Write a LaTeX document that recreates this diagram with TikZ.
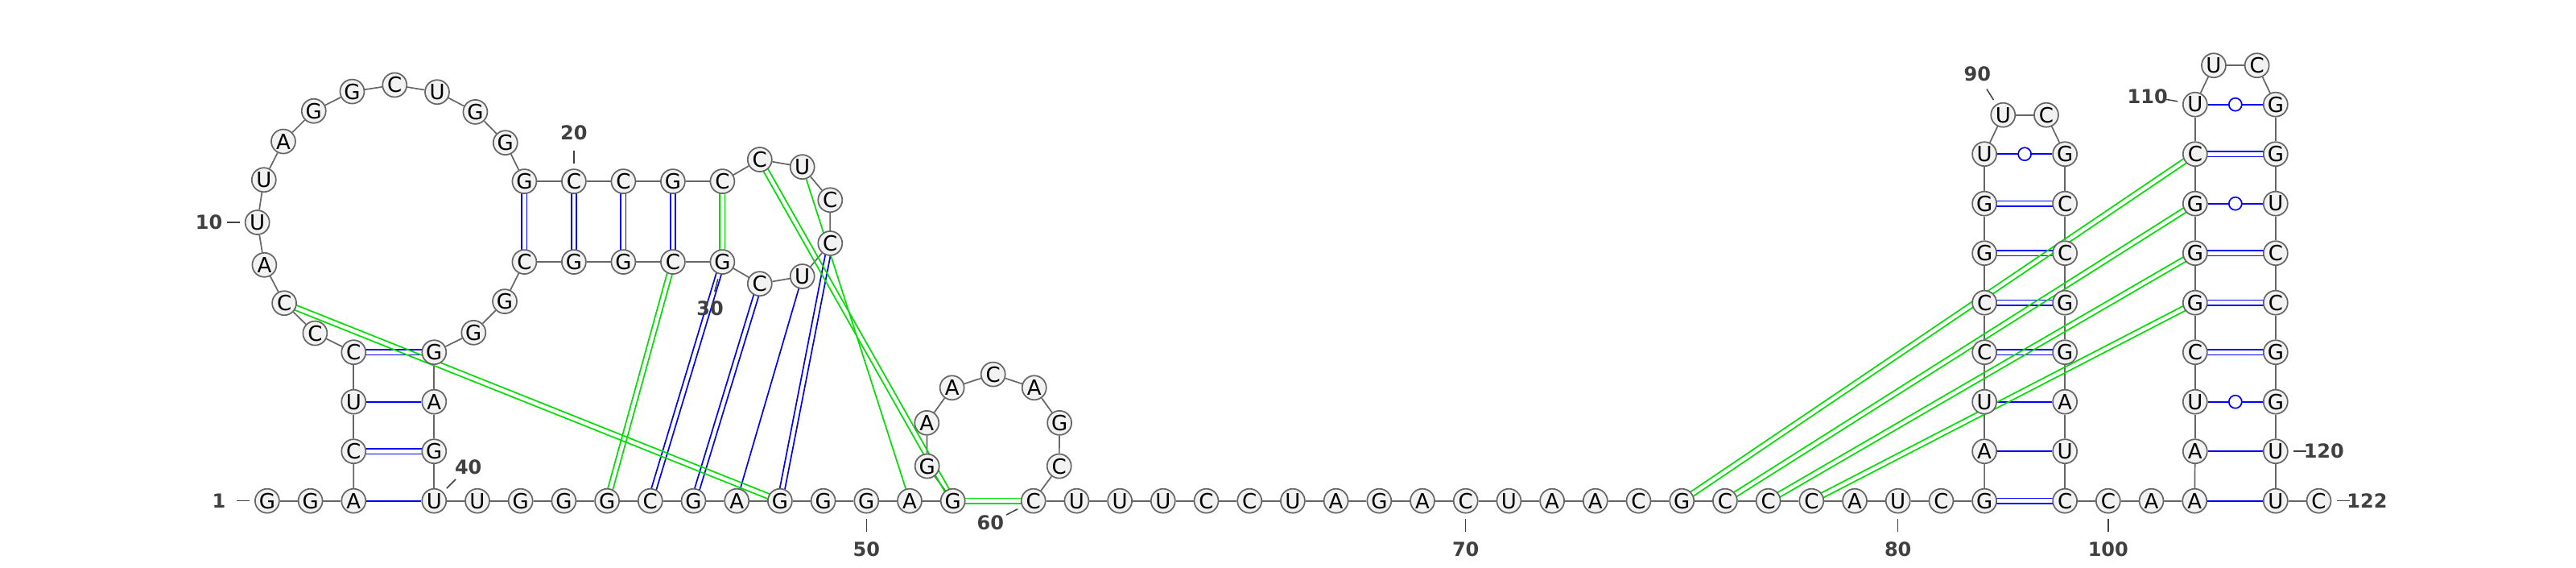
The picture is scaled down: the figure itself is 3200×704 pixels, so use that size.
\documentclass[tikz,border=0pt]{standalone}
\usepackage{fontspec}
\setmainfont{DejaVu Sans}
\usetikzlibrary{calc,backgrounds}
\definecolor{ntfill}{RGB}{242,242,242}
\definecolor{ntline}{RGB}{102,102,102}
\definecolor{bpblue}{RGB}{0,0,255}
\definecolor{pkgreen}{RGB}{0,224,0}
\definecolor{numgray}{RGB}{64,64,64}
% two parallel strokes between two bases
\newcommand{\bpdouble}[3][bpblue]{\draw[draw=#1,line width=1.7] ($(#2)!3.2pt!90:(#3)$) -- ($(#3)!3.2pt!-90:(#2)$) ($(#2)!3.2pt!-90:(#3)$) -- ($(#3)!3.2pt!90:(#2)$);}
\begin{document}
\begin{tikzpicture}[x=1pt,y=-1pt,
		nt/.style={circle,draw=ntline,fill=ntfill,line width=1.7,minimum size=30,inner sep=0,font=\fontsize{26}{26}\selectfont},
		backbone/.style={draw=ntline,line width=1.7},
		bp/.style={draw=bpblue,line width=1.7},
		pk/.style={draw=pkgreen,line width=1.7},
		wob/.style={circle,draw=bpblue,fill=white,line width=1.7,minimum size=16,inner sep=0},
		tick/.style={draw=numgray,line width=1.5},
		num/.style={text=numgray,inner sep=0,font=\fontsize{24}{24}\selectfont\bfseries}]
			\useasboundingbox (0,0) rectangle (3200,704);
			\coordinate (cA) at (489.3,275.1);
			\coordinate (cB) at (957.7,275.1);
			\coordinate (cC) at (1233.7,551.1);
			\coordinate (cD) at (2515.1,185.3);
			\coordinate (cE) at (2776.8,123.8);
			% bases
			\foreach \i/\nb in {1/G,2/G,3/A}
				\node[nt] (n\i) at ({331.9+(\i-1)*53.7},621.7) {\nb};
			\foreach \i/\nb in {4/C,5/U,6/C}
				\node[nt] (n\i) at (439.3,{621.7-(\i-3)*61.5}) {\nb};
			\foreach \i/\nb in {7/C,8/C,9/A,10/U,11/U,12/A,13/G,14/G,15/C,16/U,17/G,18/G}
				\node[nt] (n\i) at ($(cA)+({107.143+(\i-6)*18.132}:169.63)$) {\nb};
			\foreach \i/\nb in {19/G,20/C,21/C,22/G,23/C}
				\node[nt] (n\i) at ({651.4+(\i-19)*61.5},225.1) {\nb};
			\foreach \i/\nb in {24/C,25/U,26/C,27/C,28/U,29/C}
				\node[nt] (n\i) at ($(cB)+({-140.33+(\i-23)*40.094}:78.33)$) {\nb};
			\foreach \i/\nb in {30/G,31/C,32/G,33/G,34/C}
				\node[nt] (n\i) at ({651.4+(34-\i)*61.5},325.1) {\nb};
			\foreach \i/\nb in {35/G,36/G}
				\node[nt] (n\i) at ($(cA)+({72.857-(37-\i)*18.571}:169.63)$) {\nb};
			\foreach \i/\nb in {37/G,38/A,39/G}
				\node[nt] (n\i) at (539.3,{621.7-(40-\i)*61.5}) {\nb};
			\foreach \i/\nb in {40/U,41/U,42/G,43/G,44/G,45/C,46/G,47/A,48/G,49/G,50/G,51/A,52/G}
				\node[nt] (n\i) at ({539.3+(\i-40)*53.7},621.7) {\nb};
			\foreach \i/\nb in {53/G,54/A,55/A,56/C,57/A,58/G,59/C}
				\node[nt] (n\i) at ($(cC)+({125.32+(\i-52)*36.17}:86.49)$) {\nb};
			\foreach \i/\nb in {60/C,61/U,62/U,63/U,64/C,65/C,66/U,67/A,68/G,69/A,70/C,71/U,72/A,73/A,74/C,75/G,76/C,77/C,78/C,79/A,80/U,81/C,82/G}
				\node[nt] (n\i) at ({1283.7+(\i-60)*53.7},621.7) {\nb};
			\foreach \i/\nb in {83/A,84/U,85/C,86/C,87/G,88/G,89/U}
				\node[nt] (n\i) at (2465.1,{621.7-(\i-82)*61.5}) {\nb};
			\foreach \i/\nb in {90/U,91/C}
				\node[nt] (n\i) at ($(cD)+({237.76+(\i-90)*64.48}:50.345)$) {\nb};
			\foreach \i/\nb in {92/G,93/C,94/C,95/G,96/G,97/A,98/U}
				\node[nt] (n\i) at (2565.1,{621.7-(99-\i)*61.5}) {\nb};
			\foreach \i/\nb in {99/C,100/C,101/A,102/A}
				\node[nt] (n\i) at ({2565.1+(\i-99)*53.7},621.7) {\nb};
			\foreach \i/\nb in {103/A,104/U,105/C,106/G,107/G,108/G,109/C,110/U}
				\node[nt] (n\i) at (2726.8,{621.7-(\i-102)*61.5}) {\nb};
			\foreach \i/\nb in {111/U,112/C}
				\node[nt] (n\i) at ($(cE)+({237.76+(\i-111)*64.48}:50.345)$) {\nb};
			\foreach \i/\nb in {113/G,114/G,115/U,116/C,117/C,118/G,119/G,120/U,121/U}
				\node[nt] (n\i) at (2826.8,{621.7-(121-\i)*61.5}) {\nb};
			\node[nt] (n122) at (2880.5,621.7) {C};
			% numbering
			\foreach \k/\a in {1/180,10/180,20/270,30/104.7,40/-45,50/90,60/152.7,70/90,80/90,90/237.76,100/90,110/190,120/0,122/0}
			{
				\draw[tick] ($(n\k)+(\a:22)$) -- ($(n\k)+(\a:38)$);
				\node[num] (l\k) at ($(n\k)+(\a:60)$) {\k};
			}
			\begin{scope}[on background layer]
				\fill[white] (0,0) rectangle (3200,704);
				\foreach \i [remember=\i as \lasti (initially 1)] in {2,...,122}
					\draw[backbone] (n\lasti) -- (n\i);
				% pairs
				\foreach \i/\j in {4/39,6/37,19/34,20/33,21/32,22/31,30/45,29/46,27/48,82/99,85/96,86/95,87/94,88/93,105/118,106/117,107/116,109/114}
					\bpdouble{n\i}{n\j};
				\foreach \i/\j in {3/40,5/38,28/47,83/98,84/97,102/121,103/120}
					\draw[bp] (n\i) -- (n\j);
				\foreach \i/\j in {89/92,104/119,108/115,110/113}
					\draw[bp] (n\i) -- node[wob] {} (n\j);
				\foreach \i/\j in {23/30,8/48,31/44,24/52,52/60,75/109,76/108,77/107,78/106}
					\bpdouble[pkgreen]{n\i}{n\j};
				\draw[pk] (n25) -- (n51);
			\end{scope}
		\end{tikzpicture}
\end{document}
